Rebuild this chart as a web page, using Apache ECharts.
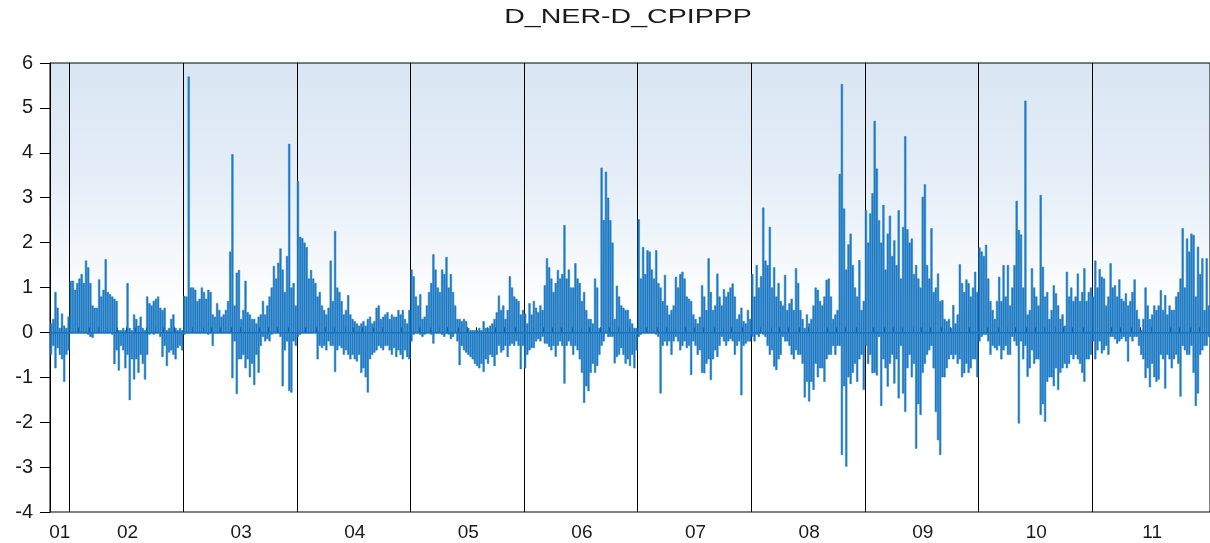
<!DOCTYPE html>
<html>
<head>
<meta charset="utf-8">
<title>D_NER-D_CPIPPP</title>
<script src="https://cdn.jsdelivr.net/npm/echarts@6/dist/echarts.min.js"></script>
<style>
  html, body { margin: 0; padding: 0; background: #fff; }
  #chart { width: 1210px; height: 543px; }
</style>
</head>
<body>
<div id="chart"></div>
<script>
// x axis: one label per year, and how many weekly points each year has
const yearLabels = ['01', '02', '03', '04', '05', '06', '07', '08', '09', '10', '11'];
const weeksInYear = [9, 52, 52, 52, 52, 52, 52, 52, 52, 52, 54];
const yTicks = [-4, -3, -2, -1, 0, 1, 2, 3, 4, 5, 6];

// weekly highest value (positive spikes), one line per year
const hi = [
  0.2, 0.3, 0.9, 0.55, 0.1, 0.42, 0.15, 0.1, 0.35,
  1.15, 1.15, 0.95, 1.1, 1.2, 1.3, 1.1, 1.6, 1.45, 1.1, 0.6, 0.55, 0.55, 1.18, 0.8, 0.95, 1.63, 0.9, 0.85, 0.8, 0.75, 0.7, 0.05, 0.05, 0.1, 0.05, 1.1, 0.1, 0.05, 0.4, 0.3, 0.15, 0.35, 0.1, 0.05, 0.8, 0.65, 0.6, 0.7, 0.75, 0.8, 0.55, 0.5, 0.55, 0.05, 0.1, 0.3, 0.4, 0.1, 0.05, 0.1, 0.05,
  0.81, 0.8, 5.7, 1.0, 1.0, 0.95, 0.7, 0.75, 1.0, 0.9, 0.75, 0.95, 0.9, 0.4, 0.35, 0.65, 0.5, 0.35, 0.4, 0.5, 0.7, 1.8, 3.97, 0.6, 1.33, 1.39, 0.3, 0.5, 1.15, 0.45, 0.4, 0.3, 0.3, 0.2, 0.35, 0.4, 0.7, 0.4, 0.6, 0.8, 1.0, 1.48, 1.2, 1.55, 1.87, 1.4, 0.9, 1.7, 4.2, 1.0, 1.1, 0.6,
  3.37, 2.13, 2.1, 2.0, 1.9, 1.2, 1.39, 1.2, 1.1, 0.8, 0.9, 0.6, 0.5, 0.4, 0.55, 1.6, 0.7, 2.26, 1.0, 0.9, 0.7, 0.4, 0.5, 0.83, 0.4, 0.3, 0.25, 0.2, 0.15, 0.2, 0.25, 0.15, 0.3, 0.35, 0.2, 0.25, 0.55, 0.6, 0.3, 0.35, 0.4, 0.45, 0.3, 0.4, 0.35, 0.35, 0.5, 0.4, 0.5, 0.3, 0.2, 0.5,
  1.4, 1.25, 0.8, 0.6, 0.85, 0.3, 0.35, 0.6, 0.9, 1.1, 1.74, 1.4, 1.0, 0.9, 1.4, 1.3, 1.68, 1.0, 1.3, 0.9, 0.6, 0.3, 0.3, 0.25, 0.3, 0.25, 0.1, 0.05, 0.05, 0.05, 0.05, 0.1, 0.05, 0.25, 0.1, 0.1, 0.15, 0.2, 0.3, 0.45, 0.82, 0.5, 0.6, 0.3, 0.5, 1.25, 1.0, 0.8, 0.75, 0.7, 0.4, 0.5,
  0.42, 0.2, 0.65, 0.4, 0.7, 0.55, 0.45, 0.6, 0.5, 1.05, 1.65, 1.45, 1.2, 0.9, 1.1, 1.39, 1.2, 1.3, 2.39, 1.2, 1.4, 1.0, 1.0, 1.54, 1.2, 1.1, 0.7, 0.9, 0.5, 0.3, 0.3, 0.2, 1.2, 1.0, 0.1, 3.67, 2.5, 3.58, 3.0, 2.5, 2.0, 0.3, 1.04, 0.8, 0.6, 0.55, 0.5, 0.5, 0.3, 0.2, 0.1, 0.1,
  2.52, 1.2, 1.9, 1.3, 1.83, 1.8, 1.4, 1.2, 1.83, 1.1, 1.0, 0.7, 1.28, 0.6, 0.4, 0.5, 0.6, 1.24, 1.0, 1.3, 1.35, 1.2, 0.8, 0.75, 0.7, 0.4, 0.3, 0.2, 0.35, 1.05, 0.8, 0.5, 1.65, 0.9, 0.5, 0.6, 1.31, 0.8, 0.6, 0.96, 0.8, 0.9, 1.0, 1.09, 0.8, 0.3, 0.4, 0.55, 0.25, 0.2, 0.5, 0.3,
  1.3, 0.8, 1.5, 1.0, 1.25, 2.78, 1.6, 1.5, 2.35, 1.0, 1.45, 0.8, 1.1, 0.7, 0.6, 1.28, 0.5, 0.65, 0.75, 0.5, 1.43, 1.1, 0.5, 0.3, 0.1, 0.4, 0.2, 0.3, 0.6, 1.0, 0.95, 0.7, 0.6, 0.8, 1.17, 1.2, 0.8, 0.3, 0.4, 0.5, 3.53, 5.53, 2.76, 1.4, 1.96, 2.2, 1.5, 1.0, 0.8, 1.61, 0.5, 0.7,
  2.72, 2.0, 2.65, 3.1, 4.71, 3.65, 2.5, 2.0, 2.84, 1.4, 2.2, 2.6, 1.7, 2.05, 1.5, 2.72, 1.2, 2.35, 4.37, 2.3, 2.0, 2.09, 1.3, 1.5, 1.2, 1.0, 3.02, 3.3, 1.5, 1.2, 2.32, 0.9, 1.0, 1.31, 0.7, 0.72, 0.3, 0.25, 0.3, 0.1, 0.61, 0.2, 0.4, 1.52, 1.1, 0.9, 1.18, 1.1, 0.8, 1.0, 1.35, 0.9,
  1.89, 1.8, 1.7, 1.95, 1.2, 0.7, 0.5, 0.3, 0.7, 1.24, 0.7, 1.5, 0.8, 1.5, 0.6, 1.0, 1.5, 2.93, 2.28, 2.18, 1.0, 5.16, 0.4, 0.5, 1.43, 1.0, 0.8, 0.6, 3.06, 1.46, 0.8, 0.9, 0.3, 0.5, 1.05, 0.87, 0.6, 0.3, 0.4, 0.15, 1.35, 0.8, 1.0, 0.7, 0.8, 1.31, 0.7, 0.9, 1.43, 0.7, 0.9, 1.0,
  0.8, 1.6, 1.0, 1.41, 1.24, 1.2, 0.6, 0.8, 1.54, 1.0, 1.05, 0.8, 1.18, 0.75, 0.7, 0.87, 0.6, 0.7, 0.9, 1.18, 0.5, 0.3, 0.05, 0.3, 1.0, 0.6, 0.3, 0.4, 0.6, 0.5, 0.6, 0.94, 0.5, 0.83, 0.4, 0.6, 0.5, 0.5, 0.8, 0.9, 1.2, 2.32, 1.0, 2.09, 1.8, 2.2, 2.17, 0.8, 1.91, 1.3, 1.65, 0.5, 1.65, 0.6
];

// weekly lowest value (negative spikes), one line per year
const lo = [
  -0.5, -0.3, -0.8, -0.35, -0.5, -0.6, -1.1, -0.5, -0.4,
  0, 0, 0, 0, 0, 0, 0, 0, -0.05, -0.1, -0.12, 0, 0, 0, 0, 0, 0, 0, 0, -0.05, -0.71, -0.4, -0.85, -0.3, -0.4, -0.8, -0.5, -1.51, -0.6, -1.05, -0.6, -0.9, -0.5, -0.7, -1.05, -0.5, -0.05, 0, -0.05, 0, 0, -0.1, -0.55, -0.3, -0.75, -0.45, -0.4, -0.5, -0.6, -0.35, -0.3, -0.4,
  -0.05, 0, 0, 0, 0, 0, 0, 0, 0, 0, 0, -0.05, 0, -0.3, 0, 0, 0, 0, 0, 0, 0, 0, -1.02, -0.2, -1.37, -0.6, -0.6, -0.5, -0.8, -0.6, -1.0, -0.7, -1.17, -0.5, -0.9, -0.3, -0.1, -0.2, -0.15, -0.2, -0.05, 0, 0, 0, -0.1, -1.2, -0.4, -0.2, -1.3, -1.34, -0.2, -0.3,
  -0.1, -0.05, 0, 0, 0, 0, 0, 0, 0, -0.6, -0.3, -0.35, -0.3, -0.4, -0.2, -0.3, -0.3, -0.88, -0.4, -0.3, -0.35, -0.5, -0.4, -0.5, -0.6, -0.5, -0.6, -0.65, -0.5, -0.9, -0.8, -1.0, -1.34, -0.6, -0.5, -0.45, -0.4, -0.3, -0.35, -0.4, -0.3, -0.3, -0.4, -0.5, -0.35, -0.55, -0.4, -0.5, -0.6, -0.4, -0.55, -0.6,
  -0.2, -0.05, 0, 0, -0.05, -0.1, -0.05, 0, 0, -0.05, -0.25, 0, 0, 0, -0.05, -0.1, 0, -0.05, -0.15, -0.1, 0, -0.2, -0.73, -0.3, -0.4, -0.45, -0.5, -0.55, -0.6, -0.7, -0.75, -0.8, -0.7, -0.88, -0.6, -0.7, -0.5, -0.55, -0.75, -0.5, -0.3, -0.45, -0.4, -0.3, -0.55, -0.3, -0.25, -0.3, -0.2, -0.3, -0.82, -0.3,
  -0.8, -0.5, -0.4, -0.35, -0.35, -0.2, -0.15, -0.2, -0.1, -0.25, -0.25, -0.32, -0.4, -0.3, -0.54, -0.3, -0.2, -0.3, -1.14, -0.3, -0.2, -0.3, -0.5, -0.3, -0.4, -0.6, -0.9, -1.57, -1.2, -1.31, -0.9, -0.7, -0.9, -0.75, -0.5, -0.3, -0.2, 0, -0.1, -0.1, -0.1, -0.69, -0.55, -0.5, -0.35, -0.5, -0.7, -0.6, -0.75, -0.5, -0.8, -0.4,
  -0.1, -0.05, 0, 0, 0, 0, 0, 0, -0.05, -0.1, -1.36, -0.3, -0.2, -0.3, -0.2, -0.5, -0.2, -0.1, -0.2, -0.4, -0.3, -0.2, -0.35, -0.3, -0.95, -0.2, -0.3, -0.5, -0.4, -0.9, -0.91, -0.7, -0.6, -1.06, -0.6, -0.4, -0.55, -0.3, -0.1, -0.2, -0.3, -0.2, -0.15, -0.2, -0.5, -0.3, -0.2, -1.4, -0.3, -0.25, -0.2, -0.2,
  -0.1, -0.2, -0.05, -0.1, 0, -0.05, -0.1, -0.3, -0.5, -0.4, -0.76, -0.84, -0.6, -0.5, -0.1, -0.2, -0.2, -0.3, -0.5, -0.6, -0.4, -0.5, -0.5, -0.7, -1.45, -1.1, -1.54, -1.1, -1.28, -0.7, -1.0, -0.8, -0.8, -1.1, -0.6, -0.5, -0.5, -0.3, -0.5, -0.3, -0.3, -2.73, -1.2, -2.99, -1.0, -1.15, -0.9, -0.7, -1.1, -0.6, -0.5, -1.28,
  -0.3, -0.7, -0.5, -0.91, -0.9, -0.96, -0.1, -1.64, -0.6, -0.8, -1.21, -0.7, -0.5, -1.14, -0.6, -1.47, -0.3, -1.36, -1.77, -0.8, -0.5, -1.0, -0.7, -2.59, -1.6, -1.84, -0.9, -0.7, -0.5, -0.4, -0.3, -0.8, -1.77, -2.4, -2.73, -1.0, -1.0, -0.8, -0.6, -0.5, -0.6, -0.5, -0.7, -0.6, -1.0, -0.91, -0.7, -0.9, -0.8, -0.6, -0.6, -1.0,
  -0.2, -0.1, -0.05, -0.05, -0.2, -0.5, -0.3, -0.35, -0.4, -0.3, -0.6, -0.4, -0.3, -0.5, -0.5, -0.1, -0.2, -0.3, -2.03, -0.2, -0.6, -0.3, -0.99, -0.8, -0.4, -0.7, -0.6, -0.6, -1.84, -1.6, -1.99, -1.1, -1.0, -1.0, -1.2, -0.8, -1.28, -0.9, -0.8, -0.7, -0.8, -0.7, -0.5, -0.6, -0.5, -0.6, -0.7, -0.9, -1.1, -0.6, -0.6, -0.5,
  -0.2, -0.6, -0.4, -0.2, -0.47, -0.4, -0.3, -0.5, -0.1, -0.1, -0.15, -0.25, -0.2, -0.15, -0.1, -0.2, -0.65, -0.1, -0.2, -0.1, -0.1, -0.3, -0.5, -0.6, -1.02, -0.8, -1.22, -0.7, -1.0, -1.1, -1.05, -0.5, -0.6, -1.25, -0.5, -0.6, -0.8, -0.6, -0.5, -0.7, -1.43, -0.3, -0.4, -0.5, -0.5, -0.3, -0.9, -1.64, -1.36, -0.5, -0.4, -0.3, -0.3, -0.1
];

// build week categories, year boundaries, mid-year label slots and month ticks
let cats = [];
let yearStart = {};
let yearMid = {};
let monthTick = {};
let pos = 0;
yearLabels.forEach((y, k) => {
  let n = weeksInYear[k];
  if (k > 0) yearStart[pos] = true;
  yearMid[pos + Math.floor(n / 2)] = y;
  for (let m = 0; m < 12; m++) {
    let w = n - Math.round((12 - m) * n / 12);
    if (k === 0) w = n - Math.round((12 - m) * 52 / 12);
    if (w >= 0) monthTick[pos + w] = true;
  }
  for (let w = 0; w < n; w++) cats.push(y + '-' + w);
  pos += n;
});

let myChart = echarts.init(document.getElementById('chart'));
let blue = '#1f7bc4';
let option = {
  animation: false,
  backgroundColor: '#ffffff',
  graphic: [
    {
      // title, drawn a little wider than the font to match the scan
      type: 'text',
      x: 628,
      y: 17,
      scaleX: 1.36,
      style: {
        text: 'D_NER-D_CPIPPP',
        font: '21px "Liberation Sans"',
        fill: '#1a1a1a',
        textAlign: 'center',
        textVerticalAlign: 'middle'
      }
    }
  ],
  grid: {
    left: 50,
    right: 0,
    top: 63,
    bottom: 31,
    show: true,
    borderColor: '#000',
    borderWidth: 1,
    // faint blue wash in the upper part of the plot
    backgroundColor: {
      type: 'linear', x: 0, y: 0, x2: 0, y2: 1,
      colorStops: [
        { offset: 0, color: '#d9e6f3' },
        { offset: 0.15, color: '#dfeaf5' },
        { offset: 0.32, color: '#e9f1f9' },
        { offset: 0.45, color: '#f6f9fc' },
        { offset: 0.55, color: '#ffffff' },
        { offset: 1, color: '#ffffff' }
      ]
    }
  },
  xAxis: {
    type: 'category',
    data: cats,
    boundaryGap: true,
    axisLine: { show: true, lineStyle: { color: '#000', width: 1 } },
    axisTick: {
      show: true,
      inside: true,
      length: 5,
      interval: (i) => !!monthTick[i],
      lineStyle: { color: '#000' }
    },
    axisLabel: {
      interval: (i) => yearMid[i] !== undefined,
      formatter: (v) => v.split('-')[0],
      fontFamily: 'Liberation Sans',
      fontSize: 19,
      color: '#1a1a1a',
      margin: 11
    },
    splitLine: {
      show: true,
      interval: (i) => !!yearStart[i],
      lineStyle: { color: '#000', width: 1 }
    }
  },
  yAxis: {
    type: 'value',
    min: yTicks[0],
    max: yTicks[yTicks.length - 1],
    interval: 1,
    axisLine: { show: true, lineStyle: { color: '#000' } },
    axisTick: { show: true, length: 10, lineStyle: { color: '#000' } },
    axisLabel: {
      fontFamily: 'Liberation Sans',
      fontSize: 20,
      color: '#1a1a1a',
      margin: 17
    },
    splitLine: { show: false }
  },
  series: [
    {
      name: 'hi',
      type: 'bar',
      data: hi,
      barCategoryGap: '0%',
      barGap: '-100%',
      itemStyle: { color: blue, borderColor: blue, borderWidth: 0.5 },
      markLine: {
        silent: true,
        symbol: 'none',
        label: { show: false },
        lineStyle: { color: blue, width: 1.5, type: 'solid' },
        data: [{ yAxis: 0 }]
      }
    },
    {
      name: 'lo',
      type: 'bar',
      data: lo,
      barCategoryGap: '0%',
      barGap: '-100%',
      itemStyle: { color: blue, borderColor: blue, borderWidth: 0.5 }
    }
  ]
};
myChart.setOption(option);
window.onresize = myChart.resize;
</script>
</body>
</html>
